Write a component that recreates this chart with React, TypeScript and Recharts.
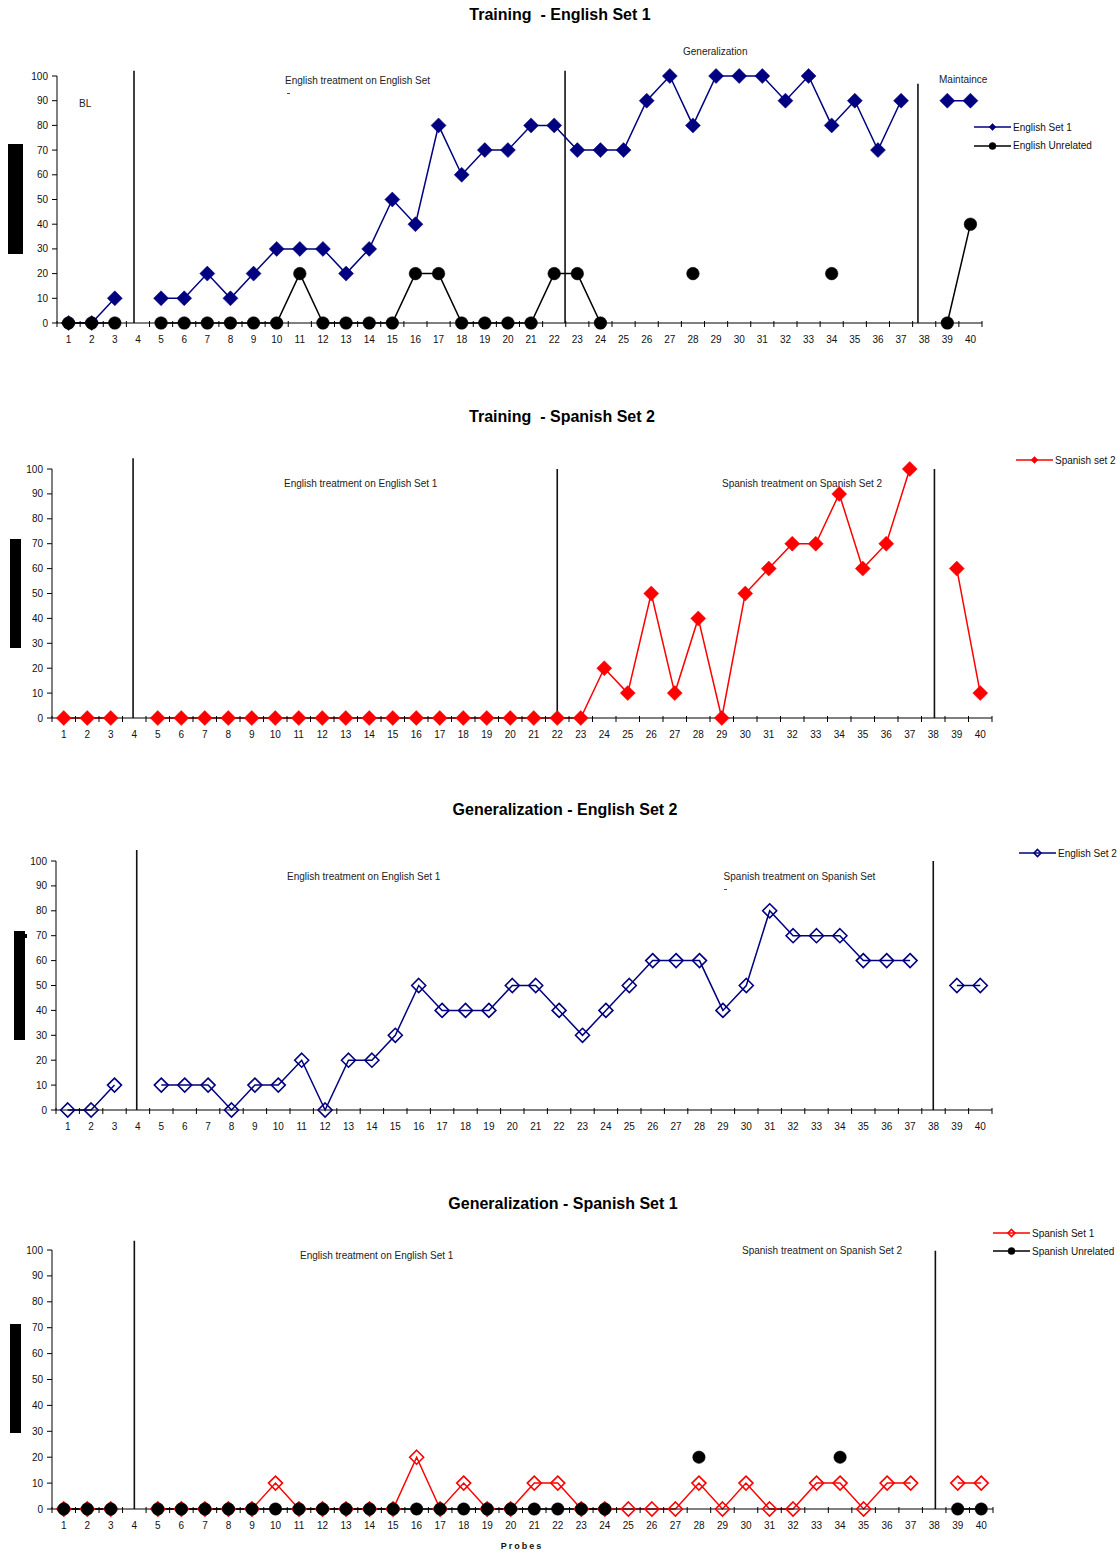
import React from 'react';
import { LineChart, Line, XAxis, YAxis, ReferenceLine } from 'recharts';

// ---------- data ----------
const probes = [1, 2, 3, 4, 5, 6, 7, 8, 9, 10, 11, 12, 13, 14, 15, 16, 17, 18, 19, 20, 21, 22, 23, 24, 25, 26, 27, 28, 29, 30, 31, 32, 33, 34, 35, 36, 37, 38, 39, 40];
const yTicks = [0, 10, 20, 30, 40, 50, 60, 70, 80, 90, 100];

const englishSet1 = [0, 0, 10, null, 10, 10, 20, 10, 20, 30, 30, 30, 20, 30, 50, 40, 80, 60, 70, 70, 80, 80, 70, 70, 70, 90, 100, 80, 100, 100, 100, 90, 100, 80, 90, 70, 90, null, 90, 90];
const englishUnrelated = [0, 0, 0, null, 0, 0, 0, 0, 0, 0, 20, 0, 0, 0, 0, 20, 20, 0, 0, 0, 0, 20, 20, 0, null, null, null, 20, null, null, null, null, null, 20, null, null, null, null, 0, 40];
const spanishSet2 = [0, 0, 0, null, 0, 0, 0, 0, 0, 0, 0, 0, 0, 0, 0, 0, 0, 0, 0, 0, 0, 0, 0, 20, 10, 50, 10, 40, 0, 50, 60, 70, 70, 90, 60, 70, 100, null, 60, 10];
const englishSet2 = [0, 0, 10, null, 10, 10, 10, 0, 10, 10, 20, 0, 20, 20, 30, 50, 40, 40, 40, 50, 50, 40, 30, 40, 50, 60, 60, 60, 40, 50, 80, 70, 70, 70, 60, 60, 60, null, 50, 50];
const spanishSet1 = [0, 0, 0, null, 0, 0, 0, 0, 0, 10, 0, 0, 0, 0, 0, 20, 0, 10, 0, 0, 10, 10, 0, 0, 0, 0, 0, 10, 0, 10, 0, 0, 10, 10, 0, 10, 10, null, 10, 10];
const spanishUnrelated = [0, 0, 0, null, 0, 0, 0, 0, 0, 0, 0, 0, 0, 0, 0, 0, 0, 0, 0, 0, 0, 0, 0, 0, null, null, null, 20, null, null, null, null, null, 20, null, null, null, null, 0, 0];

const titles = ['Training  - English Set 1', 'Training  - Spanish Set 2', 'Generalization - English Set 2', 'Generalization - Spanish Set 1'];

// ---------- styles ----------
const NAVY = '#000080';
const RED = '#FF0000';
const BLACK = '#000000';
const FONT = '"Liberation Sans", Arial, Helvetica, sans-serif';

type Marker = 'diamond' | 'hollow' | 'circle';

function markerShape(kind: Marker, cx: number, cy: number, color: string, size: number, key?: string) {
  if (kind === 'circle') return <circle key={key} cx={cx} cy={cy} r={size} fill={color} stroke={color} strokeWidth={0.5} />;
  const d = `M${cx},${cy - size}L${cx + size},${cy}L${cx},${cy + size}L${cx - size},${cy}Z`;
  if (kind === 'diamond') return <path key={key} d={d} fill={color} stroke={color} strokeWidth={0.5} />;
  return <path key={key} d={d} fill="none" stroke={color} strokeWidth={1.6} />;
}

const makeDot = (kind: Marker, color: string, size: number) => (props: any) => {
  const { cx, cy, value, index } = props;
  if (value === null || value === undefined || cx == null || cy == null || isNaN(cx) || isNaN(cy)) return <g key={`e${index}`} />;
  return markerShape(kind, cx, cy, color, size, `d${index}`);
};

type Series = { name: string; data: (number | null)[]; color: string; marker: Marker; size: number };
type Phase = { x: number; top: number };
type PanelCfg = {
  title: string; titleX: number; titleY: number;
  plotLeft: number; plotRight: number; plotTop: number; plotBottom: number;
  series: Series[]; phases: Phase[];
};

const panels: PanelCfg[] = [
  {
    title: titles[0], titleX: 560, titleY: 15,
    plotLeft: 57, plotRight: 982, plotTop: 76, plotBottom: 323,
    series: [
      { name: 'English Set 1', data: englishSet1, color: NAVY, marker: 'diamond', size: 7.5 },
      { name: 'English Unrelated', data: englishUnrelated, color: BLACK, marker: 'circle', size: 6.3 },
    ],
    phases: [{ x: 3.83, top: 102.1 }, { x: 22.47, top: 102.1 }, { x: 37.73, top: 96.9 }],
  },
  {
    title: titles[1], titleX: 562, titleY: 417,
    plotLeft: 52, plotRight: 992, plotTop: 469, plotBottom: 718,
    series: [{ name: 'Spanish set 2', data: spanishSet2, color: RED, marker: 'diamond', size: 7.5 }],
    phases: [{ x: 3.95, top: 104.3 }, { x: 22.0, top: 100 }, { x: 38.05, top: 100 }],
  },
  {
    title: titles[2], titleX: 565, titleY: 810,
    plotLeft: 56, plotRight: 992, plotTop: 861, plotBottom: 1110,
    series: [{ name: 'English Set 2', data: englishSet2, color: NAVY, marker: 'hollow', size: 7 }],
    phases: [{ x: 3.95, top: 104.4 }, { x: 37.99, top: 100 }],
  },
  {
    title: titles[3], titleX: 563, titleY: 1204,
    plotLeft: 52, plotRight: 993, plotTop: 1250, plotBottom: 1509,
    series: [
      { name: 'Spanish Set 1', data: spanishSet1, color: RED, marker: 'hollow', size: 7 },
      { name: 'Spanish Unrelated', data: spanishUnrelated, color: BLACK, marker: 'circle', size: 6.2 },
    ],
    phases: [{ x: 4.0, top: 103.6 }, { x: 38.05, top: 99.7 }],
  },
];

function Panel({ cfg }: { cfg: PanelCfg }) {
  const TOP_PAD = 30;
  const AXIS_H = 30;
  const plotW = cfg.plotRight - cfg.plotLeft;
  const plotH = cfg.plotBottom - cfg.plotTop;
  const band = plotW / 40;
  const height = TOP_PAD + plotH + AXIS_H + 5;
  const axisY = TOP_PAD + plotH;
  const rows = probes.map((p, i) => {
    const r: any = { probe: p };
    cfg.series.forEach((s, j) => { r['s' + j] = s.data[i]; });
    return r;
  });
  const xTick = (props: any) => {
    const { x, payload } = props;
    return (
      <g>
        <line x1={x - band / 2} x2={x - band / 2} y1={axisY - 2} y2={axisY + 4} stroke="#000" strokeWidth={1} />
        {payload.value === probes[probes.length - 1] ? (
          <line x1={x + band / 2} x2={x + band / 2} y1={axisY - 2} y2={axisY + 4} stroke="#000" strokeWidth={1} />
        ) : null}
        <text x={x} y={axisY + 19.5} textAnchor="middle" fontSize={10} fill="#111" fontFamily={FONT}>{payload.value}</text>
      </g>
    );
  };
  return (
    <div style={{ position: 'absolute', left: 0, top: cfg.plotTop - TOP_PAD }}>
      <LineChart width={1120} height={height} data={rows}
        margin={{ top: TOP_PAD, right: 1120 - cfg.plotRight, bottom: 5, left: cfg.plotLeft - 40 }}>
        <XAxis dataKey="probe" type="number" domain={[0.5, 40.5]} ticks={probes} interval={0}
          tick={xTick} tickLine={false} axisLine={{ stroke: '#000', strokeWidth: 1 }} height={AXIS_H} />
        <YAxis type="number" domain={[0, 100]} ticks={yTicks} interval={0} width={40} tickSize={5} tickMargin={4}
          axisLine={{ stroke: '#000' }} tickLine={{ stroke: '#000' }}
          tick={{ fontSize: 10, fill: '#111', fontFamily: FONT }} />
        {cfg.phases.map((ph, i) => (
          <ReferenceLine key={'ph' + i} segment={[{ x: ph.x, y: 0 }, { x: ph.x, y: ph.top }]}
            stroke="#111" strokeWidth={1.6} ifOverflow="visible" />
        ))}
        {cfg.series.map((s, j) => (
          <Line key={'s' + j} dataKey={'s' + j} name={s.name} type="linear" stroke={s.color} strokeWidth={1.5}
            dot={makeDot(s.marker, s.color, s.size)} activeDot={false} isAnimationActive={false} connectNulls={false} />
        ))}
      </LineChart>
    </div>
  );
}

function LegendRow({ x, y, s }: { x: number; y: number; s: Series }) {
  return (
    <div style={{ position: 'absolute', left: x, top: y - 7, height: 14, display: 'flex', alignItems: 'center', whiteSpace: 'nowrap' }}>
      <svg width={37} height={14} style={{ display: 'block' }}>
        <line x1={0} x2={37} y1={7} y2={7} stroke={s.color} strokeWidth={1.5} />
        {markerShape(s.marker, 18.5, 7, s.color, 3.5)}
      </svg>
      <span style={{ fontSize: 10, color: '#111', marginLeft: 2, fontFamily: FONT }}>{s.name}</span>
    </div>
  );
}

function Note({ x, y, text }: { x: number; y: number; text: string }) {
  return (
    <div style={{ position: 'absolute', left: x, top: y - 6, lineHeight: '12px', fontSize: 10, color: '#222', whiteSpace: 'nowrap', fontFamily: FONT }}>
      {text}
    </div>
  );
}

// tiny remnant of a wrapped annotation line that is hidden behind its box edge
function Remnant({ x, y }: { x: number; y: number }) {
  return <div style={{ position: 'absolute', left: x, top: y, width: 3, height: 1.5, background: '#444' }} />;
}

function Title({ x, y, text }: { x: number; y: number; text: string }) {
  return (
    <div style={{ position: 'absolute', left: x - 250, top: y - 10, width: 500, textAlign: 'center', lineHeight: '20px', fontSize: 16, fontWeight: 'bold', color: '#000', whiteSpace: 'pre', fontFamily: FONT }}>
      {text}
    </div>
  );
}

function Box({ x, y, w, h }: { x: number; y: number; w: number; h: number }) {
  return <div style={{ position: 'absolute', left: x, top: y, width: w, height: h, background: '#000' }} />;
}

export default function App() {
  const [p1, p2, p3, p4] = panels;
  return (
    <div style={{ position: 'absolute', left: 0, top: 0, width: 1120, height: 1553, background: '#fff', fontFamily: FONT, overflow: 'hidden' }}>
      {panels.map((p, i) => <Panel key={i} cfg={p} />)}
      {panels.map((p, i) => <Title key={'t' + i} x={p.titleX} y={p.titleY} text={p.title} />)}

      <Box x={8} y={144} w={15} h={110} />
      <Box x={10} y={539} w={11} h={109} />
      <Box x={14} y={931} w={11} h={109} />
      <Box x={25} y={934} w={2} h={4} />
      <Box x={10} y={1324} w={11} h={109} />

      <Note x={79} y={103.5} text="BL" />
      <Note x={285} y={80.7} text="English treatment on English Set" />
      <Remnant x={287} y={92.5} />
      <Note x={683} y={51.7} text="Generalization" />
      <Note x={939} y={80.3} text="Maintaince" />

      <Note x={284} y={483.7} text="English treatment on English Set 1" />
      <Note x={722} y={483.7} text="Spanish treatment on Spanish Set 2" />

      <Note x={287} y={876.7} text="English treatment on English Set 1" />
      <Note x={723.6} y={876.7} text="Spanish treatment on Spanish Set" />
      <Remnant x={723.6} y={888.5} />

      <Note x={300} y={1255.7} text="English treatment on English Set 1" />
      <Note x={742} y={1250.7} text="Spanish treatment on Spanish Set 2" />

      <LegendRow x={974} y={127.3} s={p1.series[0]} />
      <LegendRow x={974} y={145.7} s={p1.series[1]} />
      <LegendRow x={1016} y={460} s={p2.series[0]} />
      <LegendRow x={1019} y={853.3} s={p3.series[0]} />
      <LegendRow x={993} y={1233.3} s={p4.series[0]} />
      <LegendRow x={993} y={1251.3} s={p4.series[1]} />

      <div style={{ position: 'absolute', left: 472, top: 1540, width: 100, textAlign: 'center', fontSize: 9, fontWeight: 'bold', letterSpacing: 2, lineHeight: '12px', color: '#111', fontFamily: FONT }}>
        Probes
      </div>
    </div>
  );
}
